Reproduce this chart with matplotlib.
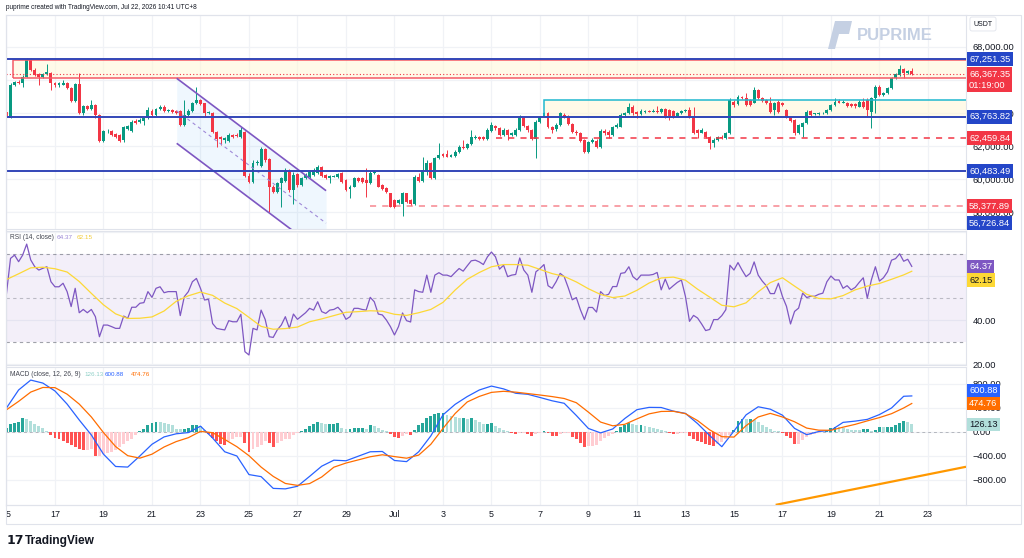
import numpy as np
import matplotlib
matplotlib.use("Agg")
import matplotlib.pyplot as plt
from matplotlib.patches import Rectangle, Polygon

plt.rcParams['font.family'] = ['Liberation Sans', 'DejaVu Sans']

# ---------------- data: 4h candles, BTC/USDT, from Jun 15 00:00 ----------------
opens = [64069, 63707, 65680, 65882, 65781, 66184, 67191, 66587, 66345, 66143,
         66345, 66425, 65781, 65660, 65700, 65821, 65479, 64734, 65740, 63968,
         64412, 64210, 64472, 63868, 62317, 62901, 62901, 62720, 62659, 62357,
         63002, 62921, 63525, 63465, 63525, 63666, 64130, 63868, 64210, 64331,
         64109, 64170, 64109, 64130, 63264, 63868, 64130, 64573, 64774, 64573,
         63968, 63968, 62861, 62518, 62357, 62317, 62659, 62659, 62518, 62861,
         60182, 59840, 60948, 60786, 61834, 61189, 59497, 59236, 59739, 59900,
         60504, 59336, 60303, 59638, 60041, 60142, 60243, 60343, 60746, 60243,
         60041, 60142, 60142, 60343, 59940, 59377, 59537, 60041, 60041, 59940,
         59739, 60343, 60243, 59638, 59437, 59135, 58732, 58531, 58490, 59135,
         58732, 58490, 60142, 59900, 60504, 60988, 60041, 61250, 61511, 61511,
         61350, 61390, 61652, 61955, 61854, 62116, 62478, 62518, 62518, 62398,
         62921, 63203, 63062, 62659, 62962, 62659, 62659, 62962, 63666, 63203,
         62962, 62398, 63465, 63767, 63968, 63123, 63002, 63264, 63868, 63767,
         63324, 62861, 62800, 62357, 61652, 62257, 62317, 61915, 62921, 62861,
         62659, 63123, 63163, 63868, 63968, 64371, 64069, 63928, 64069, 64130,
         64069, 64130, 64069, 64210, 64170, 64130, 63807, 63968, 64089, 64170,
         63767, 62962, 62800, 62861, 62559, 62196, 62357, 62518, 62458, 62760,
         64673, 64532, 64975, 64875, 64774, 64613, 65378, 64875, 64774, 64613,
         64170, 64673, 64573, 64170, 63767, 63566, 62760, 63163, 63405, 64109,
         63928, 63928, 63968, 63968, 64170, 64472, 64734, 64613, 64613, 64532,
         64532, 64371, 64673, 64774, 64069, 64875, 65580, 65076, 65177, 65479,
         66083, 66285, 66627, 66425, 66546]
highs = [64170, 65781, 65942, 65982, 66285, 67292, 67292, 66687, 66425, 66425,
         66949, 66486, 65862, 65882, 65982, 65882, 65539, 65781, 66385, 64472,
         64472, 64774, 64532, 63928, 62962, 63002, 62962, 62760, 62720, 63203,
         63264, 63566, 63606, 63666, 63767, 64371, 64210, 64271, 64472, 64472,
         64250, 64210, 64170, 64170, 64774, 64210, 64673, 65539, 64814, 64613,
         64130, 64069, 62921, 62599, 62559, 62760, 62720, 62760, 63123, 62921,
         60343, 61149, 61149, 61915, 61874, 61250, 59638, 59840, 60142, 60645,
         60585, 60444, 60384, 60142, 60343, 60545, 60645, 60847, 60786, 60303,
         60243, 60243, 60384, 60444, 59981, 59638, 60142, 60142, 60102, 60645,
         60504, 60545, 60303, 59699, 59497, 59175, 58772, 58772, 59236, 59175,
         58772, 60243, 60384, 61350, 61149, 61048, 61350, 62156, 61592, 61753,
         61511, 61753, 62055, 62357, 62196, 62962, 62659, 62599, 62599, 63062,
         63465, 63264, 63123, 63062, 63002, 62861, 63062, 63868, 63767, 63264,
         63002, 63566, 63807, 64069, 64069, 63203, 63364, 64069, 63968, 63868,
         63364, 62962, 62861, 62398, 62317, 62458, 62398, 63002, 63002, 62962,
         63203, 63364, 63968, 64069, 64573, 64472, 64130, 64210, 64170, 64170,
         64210, 64412, 64271, 64271, 64210, 64170, 64049, 64170, 64250, 64371,
         64371, 63002, 63062, 62921, 62599, 62458, 62599, 62659, 62841, 64875,
         64774, 65056, 65016, 65177, 64814, 65539, 65418, 64935, 64814, 64975,
         64673, 64774, 64673, 64210, 63807, 63606, 63324, 63465, 64170, 64170,
         64009, 64029, 64069, 64250, 64532, 64875, 64814, 64774, 64673, 64613,
         64613, 64774, 64875, 64875, 64975, 65680, 65680, 65278, 65580, 66184,
         66425, 66889, 66687, 66587, 66687]
lows = [63666, 63666, 65620, 65721, 65539, 66143, 66526, 66224, 65680, 66083,
        66285, 65378, 65580, 65580, 65660, 65418, 64653, 64673, 63928, 63868,
        64170, 64170, 63666, 62257, 62257, 62760, 62599, 62458, 62257, 62257,
        62962, 62861, 63324, 63405, 63264, 63606, 63807, 63807, 64170, 64069,
        64069, 64009, 63928, 63203, 63203, 63807, 64069, 64532, 64472, 63767,
        63928, 62800, 61955, 62055, 62156, 62257, 62498, 62518, 62458, 60102,
        59739, 59779, 60847, 60746, 61048, 58027, 59135, 59175, 58329, 59840,
        59236, 58490, 59537, 59578, 59981, 60081, 60182, 60303, 60142, 59981,
        59739, 60102, 60081, 59779, 59276, 58833, 59497, 59840, 59779, 58933,
        59699, 60303, 59497, 59336, 59175, 58289, 58229, 58490, 57765, 58571,
        58430, 58430, 59840, 59840, 60243, 59981, 59981, 61189, 61310, 61310,
        61310, 61350, 61592, 61793, 61793, 62055, 62438, 62357, 62357, 62357,
        62861, 62962, 62599, 62599, 62357, 62599, 62599, 62921, 63123, 62861,
        62357, 61250, 63405, 63727, 63062, 62760, 62921, 63203, 63666, 63264,
        62800, 62659, 62257, 61552, 61592, 62196, 61854, 61854, 62659, 62458,
        62599, 63062, 63123, 63807, 63928, 63868, 63666, 63868, 64009, 64029,
        64029, 64009, 64009, 63666, 63566, 63666, 63767, 63928, 64049, 63666,
        62720, 62458, 62760, 62458, 61793, 61955, 62317, 62438, 62398, 62720,
        64371, 64472, 64855, 64412, 64412, 64573, 64814, 64673, 64532, 64009,
        63868, 64009, 64412, 63666, 63465, 62659, 62720, 62518, 63324, 63807,
        63868, 63888, 63928, 63928, 64130, 64412, 64573, 64573, 64371, 64331,
        64271, 64331, 64271, 63767, 63062, 63968, 65016, 65016, 65116, 65418,
        66023, 66224, 66083, 66345, 66305]
closes = [63707, 65680, 65882, 65781, 66184, 67191, 66587, 66285, 66184, 66345,
          66466, 65781, 65660, 65821, 65821, 65479, 64734, 65740, 63968, 64412,
          64210, 64472, 63868, 62317, 62901, 62921, 62659, 62518, 62317, 63123,
          63203, 63465, 63405, 63566, 63666, 64170, 63868, 64210, 64331, 64109,
          64170, 64069, 64009, 63264, 63868, 64130, 64573, 64774, 64532, 63968,
          64069, 62861, 62398, 62398, 62458, 62659, 62559, 62599, 62962, 60182,
          59840, 60948, 61048, 61834, 61149, 59497, 59236, 59739, 60041, 60504,
          59336, 60243, 59638, 60041, 60243, 60444, 60545, 60746, 60182, 60041,
          60182, 60182, 60303, 59840, 59336, 59537, 60041, 59900, 59840, 59779,
          60384, 60444, 59537, 59377, 59236, 58329, 58289, 58732, 59135, 58631,
          58490, 60142, 59900, 60545, 60988, 60041, 61250, 61451, 61390, 61350,
          61451, 61652, 61955, 61854, 62116, 62518, 62559, 62398, 62398, 62962,
          63264, 63062, 62659, 62962, 62659, 62760, 62962, 63666, 63203, 62962,
          62398, 63465, 63767, 63968, 63123, 62962, 63264, 63968, 63767, 63324,
          62861, 62760, 62317, 61652, 62257, 62357, 61915, 62921, 62760, 62659,
          63123, 63264, 63868, 63968, 64371, 63968, 63928, 64130, 64130, 64069,
          64130, 64069, 64210, 63767, 63767, 63767, 63968, 64089, 64170, 63767,
          62760, 62800, 62962, 62518, 62196, 62357, 62559, 62478, 62760, 64774,
          64472, 64975, 64915, 64472, 64472, 65378, 64875, 64734, 64613, 64069,
          64573, 64069, 64472, 63767, 63525, 62760, 63264, 63364, 64069, 63868,
          63968, 63968, 64009, 64170, 64472, 64673, 64613, 64673, 64412, 64412,
          64412, 64673, 64371, 64170, 64875, 65580, 65076, 65217, 65479, 66083,
          66345, 66627, 66385, 66506, 66367.35]

# RSI(14) per candle
rsi_values = [52.1, 68, 69.5, 66.5, 69.5, 74.5, 67.3, 64.2, 62.7, 63.5,
              64.2, 57.4, 55.1, 55.1, 56.7, 52.9, 46.1, 54.4, 43.3, 44.8,
              43.3, 44.8, 41.5, 32.4, 37.7, 37.7, 37, 36.2, 36.2, 41.8,
              40.8, 45.8, 45.8, 47.6, 47.9, 52.9, 50.3, 54.4, 55.1, 52.4,
              52.9, 52.9, 52.9, 42, 50.6, 52.9, 57.4, 58.9, 54.4, 49.1,
              49.4, 38.4, 36.2, 35.8, 35.5, 39.7, 39.2, 39.2, 42.6, 25.6,
              24.1, 36.2, 35.5, 44.5, 40.3, 32.4, 32.1, 35.5, 37.7, 41.5,
              36.2, 42.7, 40.3, 41.8, 43.3, 45.3, 44.5, 48.3, 43.8, 43,
              44.5, 44.8, 45.8, 43.8, 40.3, 41.5, 45.3, 45.3, 44.8, 44.5,
              50.3, 48.3, 42.7, 42.3, 40, 37, 33.2,
              37.0, 43.2, 39.7, 39.1, 53.7, 52.9, 52.6, 60.4, 52.6, 60.4,
              61.5, 60.4, 60.4, 59.7, 61.6, 63.4, 62.2, 64.6, 66.9, 67.2,
              66.4, 65.2, 68.7, 70.9, 68.7, 63.1, 64.9, 59.7, 60.4, 60.7,
              68.2, 62.7, 60.4, 52.6, 61.9, 63.4, 65.2, 55.6, 54.4, 57.4,
              61.2, 59.7, 54.7, 49.2, 50.2, 44.7, 40.2, 45.7, 45.7, 43.6,
              52.9, 51.1, 51.7, 55.2, 55.2, 61.2, 61.5, 64.2, 59.7, 58.2,
              60.4, 60.4, 60.4, 60.7, 61.6, 53.7, 58.6, 54.0, 55.6, 57.1,
              58.2, 50.7, 39.4, 42.1, 40.9, 38.2, 35.2, 35.7, 40.2, 40.2,
              42.0, 44.7, 64.9, 62.7, 66.1, 62.7, 59.7, 61.2, 66.4, 60.4,
              57.7, 55.6, 52.0, 52.0, 56.7, 50.7, 46.2, 38.2, 43.9, 45.4,
              52.2, 50.2, 50.8, 50.8, 51.7, 52.2, 57.4, 60.0, 58.2, 58.2,
              54.4, 55.6, 53.7, 54.8, 57.1, 59.2, 49.9, 58.2, 64.2, 57.7,
              59.2, 61.9, 67.2, 67.9, 70.1, 66.7, 67.6, 64.37]

# MACD histogram per candle
macd_hist = [72, 128, 144, 167, 239, 222, 183, 128, 100, 72,
             17, -56, -94, -122, -150, -189, -222, -244, -278, -300,
             -300, -289, -400, -400, -372, -356, -333, -300, -244, -206,
             -150, -111, -56, 17, 56, 111, 144, 167, 165, 144,
             128, 111, 56, 44, 56, 72, 111, 122, 100, 33,
             -39, -94, -150, -206, -222, -150, -122, -78, -78, -189,
             -333, -278, -244, -222, -150, -189, -244, -178, -150, -122,
             -111, -56, -22, 17, 56, 100, 128, 167, 144, 128,
             128, 128, 144, 72, 44, 56, 72, 72, 72, 56,
             111, 100, 72, 33, 17, -39, -78, -94,
             -60, -40, -50, 40, 110, 150, 240, 270, 300, 320,
             320, 280, 270, 250, 230, 230, 220, 230, 200, 160,
             140, 140, 150, 100, 60, 30, 10, -20, -40, -10,
             -10, -30, -60, -30, -10, 20, -20, -60, -70, -40,
             -20, -20, -80, -120, -180, -250, -240, -230, -210, -150,
             -100, -60, -30, 10, 90, 120, 150, 130, 120, 120,
             100, 90, 70, 50, 30, 10, -10, -40, -40, -20,
             -10, -60, -120, -150, -170, -200, -210, -230, -200, -160,
             -120, -50, 30, 180, 220, 210, 210, 200, 160, 120,
             80, 50, 20, 10, -20, -60, -100, -200, -200, -130,
             -80, -50, -30, -15, -5, 20, 60, 90, 80, 60,
             50, 40, 35, 30, 50, 50, 10, 30, 90, 80,
             80, 90, 110, 150, 180, 170, 126.13]

# smooth lines read every 12h (every third candle) plus the last candle
macd_line = [400, 700, 865, 815, 683, 465, 200, -50, -370, -575,
             -585, -400, -205, -82, -30, -10, 97, -100, -330, -400,
             -710, -744, -940, -948, -905, -740, -570, -470, -480, -405,
             -330, -325, -475, -494, -330, -65, 285, 460, 590, 700,
             765, 718, 645, 628, 575, 520, 478, 275, 58, -15,
             50, 225, 372, 410, 408, 348, 310, 140, -60, -245,
             15, 285, 420, 380, 280, 60, -45, 8, 28, 160,
             181, 210, 290, 400, 595, 600.88]
signal_line = [370, 510, 665, 742, 739, 630, 465, 250, -10, -243,
               -395, -436, -370, -250, -160, -95, 10, -12, -125, -245,
               -395, -585, -740, -858, -890, -860, -750, -587, -518, -466,
               -413, -380, -410, -437, -385, -205, 58, 307, 500, 593,
               660, 678, 664, 640, 616, 590, 558, 488, 330, 165,
               103, 128, 218, 302, 342, 345, 305, 190, 35, -78,
               -85, 105, 250, 310, 250, 170, 65, 30, 28, 80,
               127, 185, 240, 305, 400, 474.76]
rsi_ma = [58.4, 61.0, 63.7, 64.0, 63.3, 61.8, 57.5, 52.1, 46.9, 42.8,
          40.7, 40.8, 41.4, 44.1, 48.5, 51.0, 52.7, 51.2, 47.7, 45.2,
          41.2, 37.1, 35.8, 36.1, 36.8, 39.2, 40.5, 42.0, 43.5, 43.8,
          44.2, 44.0, 42.6, 42.1, 43.3, 44.8, 48.0, 53.6, 58.5, 61.6,
          64.2, 65.2, 65.2, 64.9, 63.0, 61.1, 59.8, 57.3, 54.2, 51.6,
          50.2, 50.9, 53.5, 56.8, 59.1, 59.5, 58.1, 54.0, 50.4, 46.7,
          46.0, 47.8, 52.8, 57.0, 59.2, 55.4, 51.7, 49.8, 49.6, 51.1,
          53.7, 55.4, 56.6, 58.5, 60.5, 62.15]

# time axis (days since Jun 15)
date_ticks = [0, 2, 4, 6, 8, 10, 12, 14, 16, 18, 20, 22, 24, 26, 28, 30, 32, 34, 36, 38]
date_labels = ['15', '17', '19', '21', '23', '25', '27', '29', 'Jul', '3', '5', '7', '9',
               '11', '13', '15', '17', '19', '21', '23']

price_ticks = [58000, 60000, 62000, 64000, 66000, 68000]
blue_levels = [67251.35, 63763.82, 60483.49]
red_levels = [62459.84, 58377.89]
red_level_start = [20.2, 15.0]
last_price = 66367.35
countdown = '01:19:00'
low_marker = 56726.84
zone_top_start, zone_top_hi, zone_top_lo = 0.27, 67200, 66120
zone_box_start, zone_box_hi, zone_box_lo = 22.18, 64780, 63763.82
channel_t = [7.02, 13.18]
channel_upper = [66085, 59294]
channel_lower = [62158, 55367]
trend_t = [31.72, 39.57]
trend_v = [-1215, -580]

# ---------------- figure ----------------
W, H = 1024, 558
fig = plt.figure(figsize=(W / 100, H / 100), dpi=100)
fig.patch.set_facecolor('white')


def ax_at(x0, y0, x1, y1):
    return fig.add_axes([x0 / W, 1 - y1 / H, (x1 - x0) / W, (y1 - y0) / H])


L, R = 6, 966
axp = ax_at(L, 15, R, 229)
axr = ax_at(L, 231, R, 365)
axm = ax_at(L, 367, R, 505)
axt = ax_at(L, 505, R, 524)
XL = (-0.02, 39.57)

GRID = '#f0f2f6'
TXT = '#131722'
for a in (axp, axr, axm):
    a.set_xlim(*XL)
    a.set_xticks(date_ticks)
    a.tick_params(axis='x', length=0, labelbottom=False)
    a.grid(True, color=GRID, lw=0.9)
    a.set_axisbelow(True)
    a.yaxis.tick_right()
    a.tick_params(axis='y', length=0, pad=5, labelsize=6.7, labelcolor=TXT)
    for s in a.spines.values():
        s.set_color('#e0e3eb')
        s.set_linewidth(0.8)

# ---- price pane ----
o = np.asarray(opens, float)
c = np.asarray(closes, float)
hi = np.asarray(highs, float)
lo = np.asarray(lows, float)
t = np.arange(len(c)) / 6.0
col = np.where(c >= o, '#089981', '#f23645')
axp.set_ylim(56980, 69910)
axp.set_yticks(price_ticks)
# the 66,000 label sits fully under the last-price tag in the reference
axp.set_yticklabels(['' if v == 66000 else f'{v:,.2f}' for v in price_ticks])

axp.add_patch(Rectangle((zone_top_start, zone_top_lo), 50, zone_top_hi - zone_top_lo,
                        fc='#fff6d6', ec='none', alpha=0.55, zorder=1))
axp.add_patch(Rectangle((zone_top_start, zone_top_lo), 50, zone_top_hi - zone_top_lo,
                        fc='none', ec='#f45b66', lw=1.1, zorder=4))
axp.add_patch(Rectangle((zone_box_start, zone_box_lo), 50, zone_box_hi - zone_box_lo,
                        fc='#fff6d6', ec='none', alpha=0.55, zorder=1))
axp.add_patch(Rectangle((zone_box_start, zone_box_lo), 50, zone_box_hi - zone_box_lo,
                        fc='none', ec='#1fb8cf', lw=1.1, zorder=4))

ct = np.asarray(channel_t)
cu = np.asarray(channel_upper, float)
cl = np.asarray(channel_lower, float)
axp.fill_between(ct, cl, cu, color='#2196f3', alpha=0.07, lw=0, zorder=1)
axp.plot(ct, cu, color='#7e57c2', lw=1.2, zorder=4, solid_capstyle='butt')
axp.plot(ct, cl, color='#7e57c2', lw=1.2, zorder=4, solid_capstyle='butt')
axp.plot(ct, (cu + cl) / 2, color='#9f8ad8', lw=0.8, ls=(0, (3, 3)), zorder=4)

axp.vlines(t, lo, hi, colors=col, lw=0.7, zorder=2)
axp.bar(t, np.maximum(np.abs(c - o), 25), bottom=np.minimum(o, c), width=0.12,
        color=col, lw=0, zorder=2.1)

for v in blue_levels:
    axp.axhline(v, color='#3346b8', lw=1.4, zorder=5)
axp.axhline(last_price, color='#f23645', lw=0.8, ls=(0, (1, 2)), zorder=5)
for v, t0, al in zip(red_levels, red_level_start, [1.0, 0.6]):
    axp.plot([t0, XL[1]], [v, v], color='#f23645', lw=1.1, ls=(0, (4, 4)), alpha=al, zorder=5)

# ---- RSI pane ----
axr.set_ylim(19.55, 80.45)
axr.axhspan(30, 70, color='#7e57c2', alpha=0.09, lw=0)
for v, al in ((70, 0.7), (50, 0.45), (30, 0.7)):
    axr.axhline(v, color='#787b86', lw=0.8, ls=(0, (3, 3)), alpha=al)
axr.plot(t, rsi_values, color='#7e57c2', lw=0.9, zorder=3)
t12 = np.r_[np.arange(0, 223, 3), 224] / 6.0
axr.plot(t12, rsi_ma, color='#fdd835', lw=0.9, zorder=3)
axr.set_yticks([20, 40, 60, 80])
axr.set_yticklabels(['20.00', '40.00', '', ''])

# ---- MACD pane ----
axm.set_ylim(-1217, 1083)
hv = np.asarray(macd_hist, float)
prev = np.r_[hv[0], hv[:-1]]
hc = np.where(hv >= 0, np.where(hv >= prev, '#26a69a', '#b2dfdb'),
              np.where(hv < prev, '#ff5252', '#ffcdd2'))
axm.axhline(0, color='#787b86', lw=0.7, ls=(0, (3, 3)), alpha=0.5, zorder=1)
axm.bar(t, hv, width=0.12, color=hc, lw=0, zorder=2)
axm.plot(t12, macd_line, color='#2962ff', lw=0.9, zorder=3)
axm.plot(t12, signal_line, color='#ff6d00', lw=0.9, zorder=3)
axm.plot(trend_t, trend_v, color='#ff9800', lw=1.6, zorder=4, solid_capstyle='butt')
axm.set_yticks([-800, -400, 0, 400, 800])
axm.set_yticklabels(['\u2212800.00', '\u2212400.00', '0.00', '400.00', '800.00'])

# ---- time axis ----
axt.set_xlim(*XL)
axt.set_ylim(0, 1)
axt.axis('off')
for tk, lb in zip(date_ticks, date_labels):
    axt.text(tk, 0.5, lb, ha='center', va='center', fontsize=6.4, color=TXT, clip_on=True)

# frame
fig.patches.append(Rectangle((L / W, 1 - 524 / H), (1021 - L) / W, (524 - 15) / H,
                             transform=fig.transFigure, fc='none', ec='#e0e3eb', lw=0.8))
fig.lines.append(plt.Line2D([L / W, 1021 / W], [1 - 505 / H] * 2, transform=fig.transFigure,
                            color='#e0e3eb', lw=0.8))
fig.canvas.draw()


# ---- right-side value tags ----
def tag(ax, value, text, fc, tc='white', dy=0, clamp=None):
    y = ax.transData.transform((0, value))[1]
    if clamp is not None:
        y = max(y, clamp)
    fig.text(969 / W, (y + dy) / H, text, ha='left', va='center', fontsize=6.7, color=tc,
             linespacing=1.3,
             bbox=dict(boxstyle='square,pad=0.25', fc=fc, ec='none'), zorder=10)


BLUE = '#2446c8'
RED = '#f23645'
tag(axp, blue_levels[0], f'{blue_levels[0]:,.2f}', BLUE)
tag(axp, last_price, f'{last_price:,.2f}\n{countdown}', RED, dy=-6)
tag(axp, blue_levels[1], f'{blue_levels[1]:,.2f}', BLUE)
tag(axp, red_levels[0], f'{red_levels[0]:,.2f}', RED)
tag(axp, blue_levels[2], f'{blue_levels[2]:,.2f}', BLUE)
tag(axp, red_levels[1], f'{red_levels[1]:,.2f}', RED)
tag(axp, low_marker, f'{low_marker:,.2f}', BLUE, clamp=(1 - 223 / H) * H)
tag(axr, rsi_values[-1], f'{rsi_values[-1]:.2f}', '#7e57c2')
tag(axr, rsi_ma[-1], f'{rsi_ma[-1]:.2f}', '#fdd835', tc=TXT, dy=-9)
tag(axm, macd_line[-1], f'{macd_line[-1]:.2f}', '#2962ff', dy=5)
tag(axm, signal_line[-1], f'{signal_line[-1]:.2f}', '#ff6d00')
tag(axm, macd_hist[-1], f'{macd_hist[-1]:.2f}', '#b2dfdb', tc=TXT)

# USDT currency tag
fig.text(983 / W, 1 - 24 / H, 'USDT', ha='center', va='center', fontsize=5, color=TXT,
         bbox=dict(boxstyle='round,pad=0.5,rounding_size=0.3', fc='white', ec='#e0e3eb', lw=0.6))


# ---- indicator titles ----
def fxt(x, y, s, color, size=4.8):
    fig.text(x / W, 1 - y / H, s, ha='left', va='center', fontsize=size, color=color)


fxt(10, 237, 'RSI (14, close)', '#434651')
fxt(57, 237, f'{rsi_values[-1]:.2f}', '#9c88d6', size=4.6)
fxt(77, 237, f'{rsi_ma[-1]:.2f}', '#f2cc3a', size=4.6)
fxt(10, 375, 'MACD (close, 12, 26, 9)', '#434651')
fxt(84, 375, f'{macd_hist[-1]:.2f}', '#8fd0c8', size=4.5)
fxt(105, 375, f'{macd_line[-1]:.2f}', '#2962ff', size=4.5)
fxt(131, 375, f'{signal_line[-1]:.2f}', '#ff6d00', size=4.5)

# header / footer
fxt(6, 7.5, 'puprime created with TradingView.com, Jul 22, 2026 10:41 UTC+8', TXT, size=4.7)
fig.text(7 / W, 1 - 541 / H, '17', ha='left', va='center', fontsize=9, fontweight='heavy',
         color=TXT, family='DejaVu Sans')
fig.text(25 / W, 1 - 541 / H, 'TradingView', ha='left', va='center', fontsize=8.6,
         fontweight='bold', color=TXT)

# PU PRIME watermark
logo = Polygon([(828 / W, 1 - 49 / H), (835 / W, 1 - 21 / H), (852 / W, 1 - 21 / H),
                (849 / W, 1 - 34 / H), (839 / W, 1 - 34 / H), (835 / W, 1 - 49 / H)],
               closed=True, transform=fig.transFigure, fc='#c5d0e3', ec='none')
fig.patches.append(logo)
fig.text(857 / W, 1 - 36 / H, 'PUPRIME', ha='left', va='center', fontsize=12,
         fontweight='bold', color='#c5d0e3')

fig.savefig('out.png', dpi=100, facecolor='white')
